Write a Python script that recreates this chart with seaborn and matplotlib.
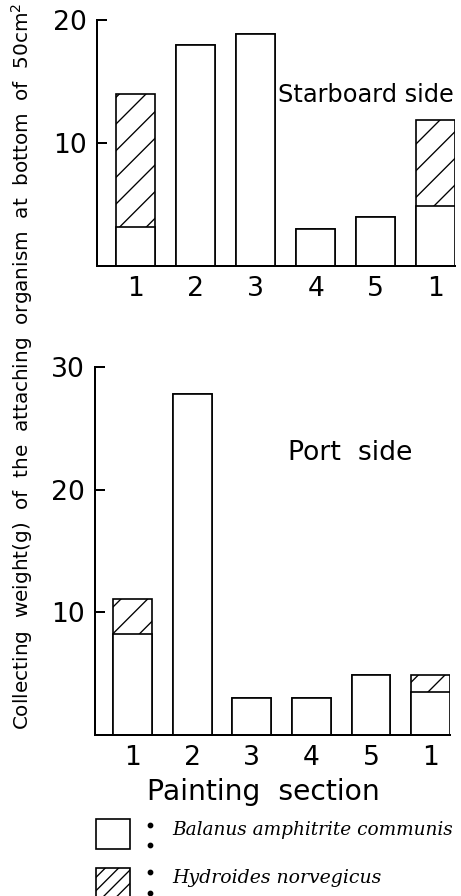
import matplotlib
matplotlib.use("Agg")
import matplotlib.pyplot as plt
from matplotlib.patches import Rectangle
from matplotlib.lines import Line2D
import numpy as np
import pandas as pd
import seaborn as sns

# ---- data ----
sections = ["1", "2", "3", "4", "5", "1"]
starboard_balanus = [3.2, 18.0, 18.9, 3.0, 4.0, 4.9]
starboard_hydroides = [10.8, 0.0, 0.0, 0.0, 0.0, 7.0]
port_balanus = [8.2, 27.8, 3.0, 3.0, 4.9, 3.5]
port_hydroides = [2.9, 0.0, 0.0, 0.0, 0.0, 1.4]
starboard_yticks = [10, 20]
port_yticks = [10, 20, 30]

sns.set_style("ticks")
plt.rcParams["font.family"] = ["DejaVu Sans"]
plt.rcParams["hatch.linewidth"] = 0.6
plt.rcParams["hatch.color"] = "black"
plt.rcParams["text.color"] = "black"
plt.rcParams["axes.labelcolor"] = "black"
plt.rcParams["xtick.color"] = "black"
plt.rcParams["ytick.color"] = "black"

DPI = 160
fig = plt.figure(figsize=(461 / DPI, 896 / DPI), dpi=DPI)

def panel(rect, balanus, hydro, ymax, yticks):
    ax = fig.add_axes(rect)
    df = pd.DataFrame({
        "idx": np.arange(len(sections)),
        "balanus": balanus,
        "total": np.array(balanus) + np.array(hydro),
    })
    sns.barplot(data=df, x="idx", y="total", color="white", edgecolor="black",
                linewidth=0.75, width=0.65, errorbar=None, hatch="//",
                saturation=1, ax=ax)
    sns.barplot(data=df, x="idx", y="balanus", color="white", edgecolor="black",
                linewidth=0.75, width=0.65, errorbar=None, saturation=1, ax=ax)
    for p in ax.patches[len(sections):]:
        p.set_hatch("")
    ax.set_ylim(0, ymax)
    ax.set_yticks(yticks)
    ax.set_xticks(range(len(sections)))
    ax.set_xticklabels(sections)
    ax.set_xlabel("")
    ax.set_ylabel("")
    ax.set_facecolor("none")
    sns.despine(ax=ax)
    for s in ("left", "bottom"):
        ax.spines[s].set_linewidth(0.9)
        ax.spines[s].set_color("black")
    ax.tick_params(axis="y", direction="in", length=4.5, width=0.9,
                   labelsize=12, pad=4.5, colors="black")
    ax.tick_params(axis="x", length=0, labelsize=12, pad=4.5, colors="black")
    return ax

# top (starboard) panel
ax1 = panel([97 / 461, 1 - 266 / 896, 358 / 461, 246 / 896],
            starboard_balanus, starboard_hydroides, 20, starboard_yticks)
ax1.set_xlim(-0.65, 5.325)

# bottom (port) panel
ax2 = panel([95 / 461, 1 - 735 / 896, 355 / 461, 368 / 896],
            port_balanus, port_hydroides, 30, port_yticks)
ax2.set_xlim(-0.63, 5.325)

fig.text(278 / 461, 1 - 95 / 896, "Starboard side", ha="left", va="center",
         fontsize=10.8)
fig.text(288 / 461, 1 - 453 / 896, "Port  side", ha="left", va="center",
         fontsize=12)
fig.text(263 / 461, 1 - 792 / 896, "Painting  section", ha="center", va="center",
         fontsize=12.7)

fig.text(22 / 461, 1 - 366 / 896,
         "Collecting  weight(g)  of  the  attaching  organism  at  bottom  of  50cm$^2$",
         rotation=90, ha="center", va="center", fontsize=9.0)

# legend
box_w, box_h = 34 / 461, 30 / 896
fig.add_artist(Rectangle((96 / 461, 1 - 849 / 896), box_w, box_h,
                         facecolor="white", edgecolor="black", linewidth=0.75,
                         transform=fig.transFigure))
fig.add_artist(Rectangle((96 / 461, 1 - 898 / 896), box_w, box_h,
                         facecolor="white", edgecolor="black", linewidth=0.75,
                         hatch="////", transform=fig.transFigure))
for ya, yb in ((825, 845), (872, 893)):
    fig.add_artist(Line2D([150 / 461, 150 / 461], [1 - ya / 896, 1 - yb / 896],
                          linestyle="none", marker="o", markersize=1.6,
                          color="black", transform=fig.transFigure))
fig.text(172 / 461, 1 - 830 / 896, "Balanus amphitrite communis",
         family="DejaVu Serif", style="italic", ha="left", va="center",
         fontsize=8.3)
fig.text(172 / 461, 1 - 878 / 896, "Hydroides norvegicus",
         family="DejaVu Serif", style="italic", ha="left", va="center",
         fontsize=8.5)

fig.savefig("out.png", dpi=DPI, facecolor="white")
